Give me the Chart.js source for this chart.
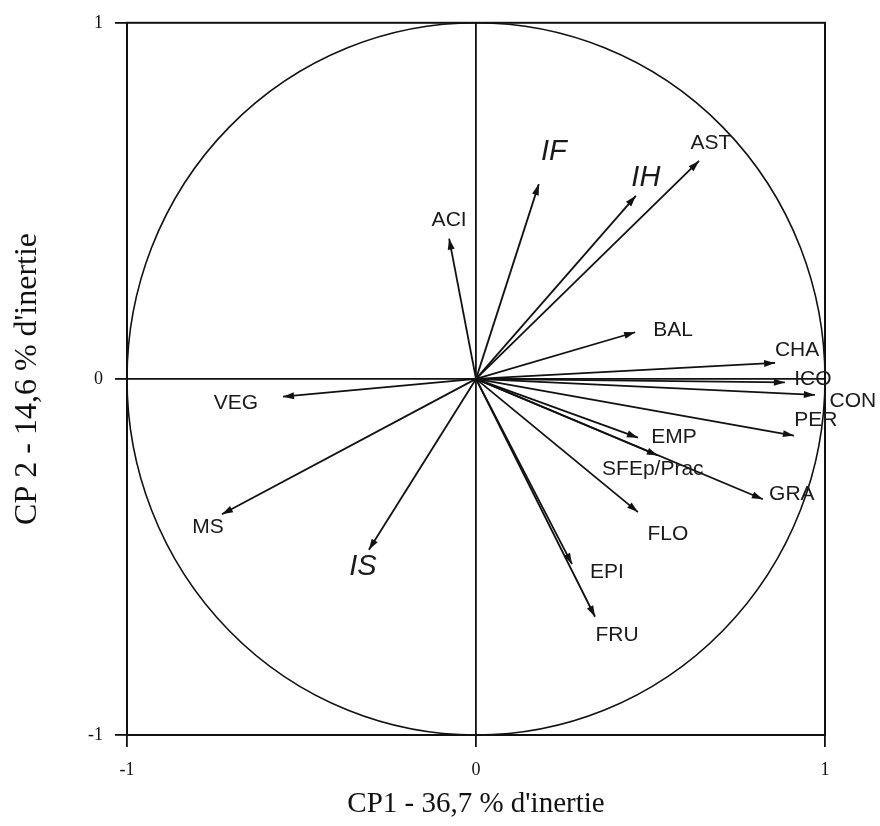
<!DOCTYPE html>
<html>
<head>
<meta charset="utf-8">
<script src="https://cdn.jsdelivr.net/npm/chart.js@4/dist/chart.umd.min.js"></script>
<style>
  html, body { margin: 0; padding: 0; background: #fff; }
  #wrap { width: 880px; height: 826px; }
</style>
</head>
<body>
<div id="wrap"><canvas id="chart" width="880" height="826"></canvas></div>
<script>
// ── Data: variable loadings on CP1 / CP2 ──
const variables = ['ACI', 'IF', 'IH', 'AST', 'BAL', 'CHA', 'ICO', 'CON', 'PER', 'EMP',
                   'SFEp/Prac', 'GRA', 'FLO', 'EPI', 'FRU', 'VEG', 'MS', 'IS'];
const cp1 = [-0.077, 0.18, 0.458, 0.639, 0.456, 0.857, 0.885, 0.971, 0.911, 0.464,
             0.521, 0.822, 0.464, 0.275, 0.341, -0.553, -0.728, -0.307];
const cp2 = [0.394, 0.547, 0.514, 0.612, 0.131, 0.045, -0.010, -0.045, -0.159, -0.165,
             -0.215, -0.338, -0.374, -0.52, -0.668, -0.050, -0.380, -0.480];
const tickValues = [-1, 0, 1];
const xTitle = "CP1 - 36,7 % d'inertie";
const yTitle = "CP 2 - 14,6 % d'inertie";

// ── Label placement (pixel offsets from arrow tip) ──
const labelOffsets = {
    'ACI': [0, -18], 'IF': [15, -32], 'IH': [10, -18], 'AST': [12, -18],
    'BAL': [38, -2], 'CHA': [22, -13], 'ICO': [28, -3], 'CON': [38, 6],
    'PER': [22, -15], 'EMP': [36, 0], 'SFEp/Prac': [-5, 14], 'GRA': [29, -5],
    'FLO': [30, 22], 'EPI': [35, 8], 'FRU': [22, 18], 'VEG': [-47, 6],
    'MS': [-14, 13], 'IS': [-6, 17]
};
const italicLabels = ['IF', 'IH', 'IS'];

// ── Circle + frame ──
const circlePlugin = {
    id: 'circle',
    beforeDatasetsDraw(chart) {
        const { ctx, chartArea, scales: { x, y } } = chart;
        const cx = x.getPixelForValue(0), cy = y.getPixelForValue(0);
        const rx = x.getPixelForValue(1) - cx, ry = cy - y.getPixelForValue(1);
        ctx.save();
        ctx.strokeStyle = '#111';
        ctx.lineWidth = 1.6;
        ctx.beginPath();
        ctx.ellipse(cx, cy, rx, ry, 0, 0, Math.PI * 2);
        ctx.stroke();
        ctx.lineWidth = 2;
        ctx.strokeRect(chartArea.left, chartArea.top,
                       chartArea.right - chartArea.left, chartArea.bottom - chartArea.top);
        ctx.restore();
    }
};

// ── Arrowheads + labels ──
const arrowPlugin = {
    id: 'arrows',
    afterDatasetsDraw(chart) {
        const { ctx, scales: { x, y } } = chart;
        const ox = x.getPixelForValue(0), oy = y.getPixelForValue(0);
        ctx.save();
        variables.forEach((name, i) => {
            const px = x.getPixelForValue(cp1[i]);
            const py = y.getPixelForValue(cp2[i]);
            const ang = Math.atan2(py - oy, px - ox);
            const len = 11, half = 3.5;
            ctx.fillStyle = '#111';
            ctx.beginPath();
            ctx.moveTo(px, py);
            ctx.lineTo(px - len * Math.cos(ang) + half * Math.sin(ang),
                       py - len * Math.sin(ang) - half * Math.cos(ang));
            ctx.lineTo(px - len * Math.cos(ang) - half * Math.sin(ang),
                       py - len * Math.sin(ang) + half * Math.cos(ang));
            ctx.closePath();
            ctx.fill();

            const off = labelOffsets[name] || [0, 0];
            ctx.font = italicLabels.includes(name)
                ? 'italic 29px "Liberation Sans", Arial, sans-serif'
                : '21px "Liberation Sans", Arial, sans-serif';
            ctx.textAlign = 'center';
            ctx.textBaseline = 'middle';
            ctx.fillStyle = '#1a1a1a';
            ctx.fillText(name, px + off[0], py + off[1]);
        });
        ctx.restore();
    }
};

const datasets = variables.map((name, i) => ({
    label: name,
    data: [{ x: 0, y: 0 }, { x: cp1[i], y: cp2[i] }],
    showLine: true,
    borderColor: '#111',
    borderWidth: 1.8,
    pointRadius: 0,
    fill: false
}));

const zeroGrid = {
    color: ctx => (ctx.tick && ctx.tick.value === 0 ? '#111' : 'rgba(0,0,0,0)'),
    lineWidth: 1.8,
    tickColor: '#111',
    tickLength: 12,
    drawOnChartArea: true
};

new Chart(document.getElementById('chart'), {
    type: 'scatter',
    data: { datasets },
    options: {
        responsive: false,
        animation: false,
        layout: { padding: { top: 18, right: 55, left: 0, bottom: 0 } },
        plugins: {
            legend: { display: false },
            tooltip: { enabled: false }
        },
        scales: {
            x: {
                min: -1, max: 1,
                afterBuildTicks: s => { s.ticks = tickValues.map(v => ({ value: v })); },
                afterFit: s => { s.height = 91; },
                grid: zeroGrid,
                border: { display: true, color: '#111', width: 2 },
                ticks: {
                    color: '#111',
                    padding: 12,
                    font: { family: '"Liberation Serif", "Times New Roman", serif', size: 18 },
                    callback: v => String(v)
                },
                title: {
                    display: true,
                    text: xTitle,
                    color: '#111',
                    padding: { top: 12 },
                    font: { family: '"Liberation Serif", "Times New Roman", serif', size: 29 }
                }
            },
            y: {
                min: -1, max: 1,
                afterBuildTicks: s => { s.ticks = tickValues.map(v => ({ value: v })); },
                afterFit: s => { s.width = 127; },
                grid: zeroGrid,
                border: { display: true, color: '#111', width: 2 },
                ticks: {
                    color: '#111',
                    padding: 12,
                    font: { family: '"Liberation Serif", "Times New Roman", serif', size: 18 },
                    callback: v => String(v)
                },
                title: {
                    display: true,
                    text: yTitle,
                    color: '#111',
                    padding: { top: 8 },
                    font: { family: '"Liberation Serif", "Times New Roman", serif', size: 32 }
                }
            }
        }
    },
    plugins: [circlePlugin, arrowPlugin]
});
</script>
</body>
</html>
